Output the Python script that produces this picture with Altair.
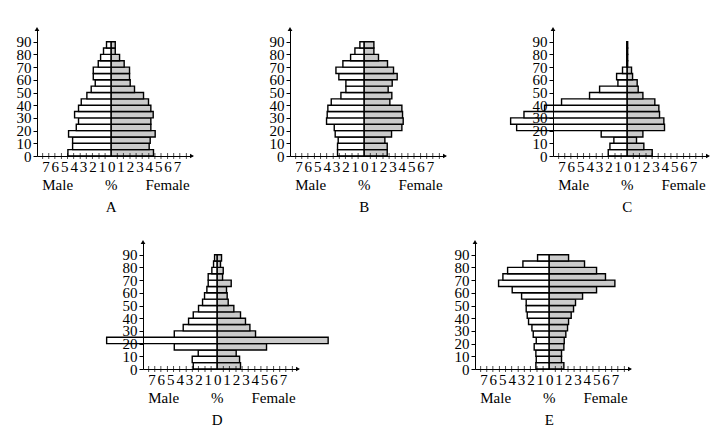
import altair as alt
import pandas as pd

# Age groups (5-year bins, lower edge)
ages = [0, 5, 10, 15, 20, 25, 30, 35, 40, 45, 50, 55, 60, 65, 70, 75, 80, 85]

# Percent of population, bottom (0-5) to top (85-90)
A_male = [4.61, 4.11, 4.11, 4.54, 3.72, 3.48, 3.90, 3.48, 3.19, 2.59, 2.13, 1.70, 1.91, 1.91, 1.38, 1.13, 0.82, 0.50]
A_female = [4.50, 4.04, 4.15, 4.68, 4.22, 4.22, 4.47, 4.22, 3.97, 3.44, 2.48, 2.02, 1.95, 1.95, 1.38, 0.89, 0.43, 0.43]

B_male = [2.84, 2.84, 2.77, 3.09, 3.19, 4.01, 3.94, 3.87, 3.51, 2.48, 1.95, 1.95, 2.70, 3.01, 2.27, 1.45, 0.99, 0.46]
B_female = [2.45, 2.45, 2.20, 2.91, 4.01, 4.15, 4.08, 4.01, 2.73, 2.94, 2.55, 2.98, 3.51, 3.12, 2.48, 1.52, 1.03, 1.03]

C_male = [2.02, 1.84, 1.42, 2.77, 11.77, 12.41, 10.99, 8.80, 6.99, 4.01, 2.94, 0.99, 1.13, 0.50, 0.05, 0.05, 0.05, 0.05]
C_female = [2.66, 1.77, 0.99, 1.67, 3.97, 3.90, 3.44, 3.37, 2.94, 1.67, 1.17, 1.06, 0.57, 0.46, 0.05, 0.05, 0.05, 0.05]

D_male = [2.55, 2.66, 2.02, 4.57, 11.77, 4.57, 3.62, 3.05, 2.55, 1.99, 1.56, 1.35, 1.10, 0.96, 0.96, 0.57, 0.39, 0.28]
D_female = [2.48, 2.38, 2.02, 5.25, 11.81, 4.08, 3.48, 3.01, 2.48, 1.77, 1.17, 1.06, 0.99, 1.49, 0.57, 0.64, 0.35, 0.46]

E_male = [1.42, 1.38, 1.42, 1.60, 1.38, 1.70, 1.84, 2.20, 2.34, 2.45, 2.45, 2.94, 3.94, 5.39, 4.93, 4.43, 2.80, 1.24]
E_female = [1.56, 1.31, 1.31, 1.56, 1.60, 1.77, 1.95, 2.06, 2.34, 2.59, 2.80, 3.55, 5.04, 6.99, 5.99, 5.04, 3.76, 2.06]

x_label_values = [-7, -6, -5, -4, -3, -2, -1, 0, 1, 2, 3, 4, 5, 6, 7]
x_tick_values = [-7.3, -6.65, -6.0, -5.3, -4.65, -4.0, -3.3, -2.65, -2.0, -1.3, -0.65,
                 0.65, 1.3, 2.0, 2.65, 3.3, 4.0, 4.65, 5.3, 6.0, 6.65, 7.3, 8.0]
y_label_values = [0, 10, 20, 30, 40, 50, 60, 70, 80, 90]
sex_words = ["Male", "%", "Female"]
sex_word_pos = [-5.7, 0, 6.0]

X_DOMAIN = [-7.9, 8.6]
Y_DOMAIN = [0, 100]
W, H = 155, 127
FONT = "Liberation Serif, Times New Roman, DejaVu Serif, serif"

xs = alt.Scale(domain=X_DOMAIN, nice=False, zero=False)
ys = alt.Scale(domain=Y_DOMAIN, nice=False, zero=False)
x_axis = alt.Axis(values=x_label_values, labelExpr="'' + abs(datum.value)", ticks=False,
                  grid=False, title=None, domainColor="black", domainWidth=1,
                  labelPadding=3, labelFontSize=15, labelFont=FONT, labelColor="black",
                  labelOverlap=False, labelFlush=False, zindex=1)
y_axis_kw = dict(values=y_label_values, grid=False, title=None, tickSize=4, labelPadding=2,
                 labelFontSize=15, labelFont=FONT, labelOverlap=False, labelFlush=False)
y_axis = alt.Axis(domainColor="black", domainWidth=1, tickColor="black",
                  labelColor="black", zindex=1, **y_axis_kw)
y_axis_hidden = alt.Axis(domainOpacity=0, tickOpacity=0, labelOpacity=0, **y_axis_kw)


def panel(letter, male, female):
    rows = []
    for a, m, f in zip(ages, male, female):
        rows.append({"age": a, "age2": a + 5, "x": -m, "x2": 0, "sex": "Male"})
        rows.append({"age": a, "age2": a + 5, "x": 0, "x2": f, "sex": "Female"})
    df = pd.DataFrame(rows)
    bars = alt.Chart(df).mark_rect(stroke="black", strokeWidth=1.4).encode(
        x=alt.X("x:Q", scale=xs, axis=x_axis),
        x2="x2:Q",
        y=alt.Y("age:Q", scale=ys, axis=y_axis),
        y2="age2:Q",
        fill=alt.Fill("sex:N", scale=alt.Scale(domain=["Male", "Female"],
                                               range=["white", "#cbcbcb"]), legend=None),
    )
    ticks = alt.Chart(pd.DataFrame({"x": x_tick_values})).mark_tick(
        color="black", thickness=1, size=6).encode(
        x=alt.X("x:Q", scale=xs, axis=x_axis),
        y=alt.value(H),
    )
    arrows = alt.Chart(pd.DataFrame({
        "x": [X_DOMAIN[1], X_DOMAIN[0]],
        "y": [Y_DOMAIN[0], Y_DOMAIN[1]],
        "shape": ["triangle-right", "triangle-up"],
    })).mark_point(filled=True, color="black", size=22, opacity=1).encode(
        x=alt.X("x:Q", scale=xs, axis=x_axis),
        y=alt.Y("y:Q", scale=ys, axis=y_axis),
        shape=alt.Shape("shape:N", scale=None),
    )
    words = alt.Chart(pd.DataFrame({"x": sex_word_pos, "t": sex_words})).mark_text(
        font=FONT, fontSize=15, baseline="middle", color="black").encode(
        x=alt.X("x:Q", scale=xs, axis=x_axis),
        y=alt.value(H + 29),
        text="t:N",
    )
    letter_t = alt.Chart(pd.DataFrame({"x": [0], "t": [letter]})).mark_text(
        font=FONT, fontSize=15, baseline="middle", color="black").encode(
        x=alt.X("x:Q", scale=xs, axis=x_axis),
        y=alt.value(H + 51),
        text="t:N",
    )
    return alt.layer(bars, ticks, arrows, words, letter_t).properties(width=W, height=H)


def spacer(w, with_axis=False):
    y_enc = alt.Y("v:Q", scale=ys, axis=y_axis_hidden) if with_axis else \
        alt.Y("v:Q", axis=None, scale=alt.Scale(domain=[0, 1]))
    return alt.Chart(pd.DataFrame({"v": [0]})).mark_point(opacity=0, size=0).encode(
        x=alt.X("v:Q", axis=None, scale=alt.Scale(domain=[0, 1])),
        y=y_enc,
    ).properties(width=w, height=H)


row1 = alt.hconcat(
    panel("A", A_male, A_female), spacer(77.7), panel("B", B_male, B_female),
    spacer(87.3), panel("C", C_male, C_female),
    spacing=10, bounds="flush",
)
row2 = alt.hconcat(
    spacer(95.7, with_axis=True), panel("D", D_male, D_female), spacer(157),
    panel("E", E_male, E_female),
    spacing=10, bounds="flush",
)

chart = alt.vconcat(row1, row2, spacing=24).properties(
    padding={"left": 16, "top": 26, "right": 0, "bottom": 0},
    background="white",
).configure(font=FONT).configure_view(strokeWidth=0, strokeOpacity=0, stroke="transparent")

chart.save("out.html", embed_options={"renderer": "svg", "actions": False})
